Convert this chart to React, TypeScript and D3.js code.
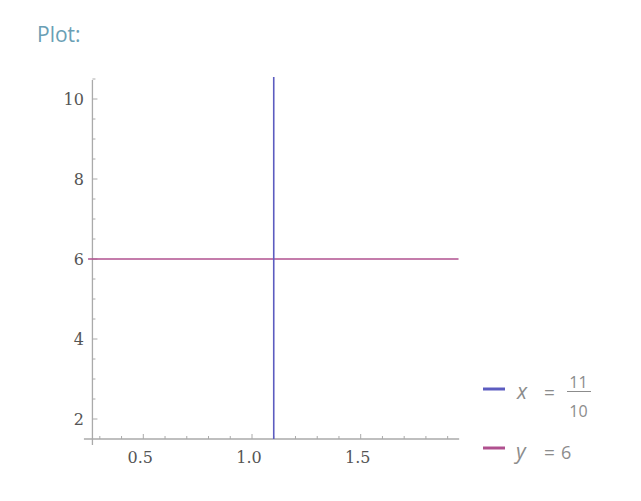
import React from "react";
import * as d3 from "d3";

const xMajorTicks = [0.5, 1.0, 1.5];
const xMinorTicks = [0.3, 0.4, 0.6, 0.7, 0.8, 0.9, 1.1, 1.2, 1.3, 1.4, 1.6, 1.7, 1.8, 1.9];
const yMajorTicks = [2, 4, 6, 8, 10];
const yMinorTicks = [2.5, 3, 3.5, 4.5, 5, 5.5, 6.5, 7, 7.5, 8.5, 9, 9.5, 10.5];
const xTickLabels = ["0.5", "1.0", "1.5"];
const yTickLabels = ["2", "4", "6", "8", "10"];
const verticalLineX = 1.1;
const horizontalLineY = 6;
const xDomainPlot = [0.266, 1.953];
const yDomainPlot = [1.5, 10.5];
const lineXRange = [0.246, 1.95];
const lineYRange = [1.5, 10.55];

export default function App() {
  const x = d3.scaleLinear().domain([0.5, 1.5]).range([143.3, 360.7]);
  const y = d3.scaleLinear().domain([2, 10]).range([419, 99]);
  const axisY = y(yDomainPlot[0]);
  const axisX = x(xDomainPlot[0]);
  const axisColor = "#aaaaaa";
  const labelColor = "#555555";
  const legendColor = "#8c8c8c";
  const line = d3.line<[number, number]>().x((d) => x(d[0])).y((d) => y(d[1]));

  return (
    <svg width={641} height={501} style={{ position: "absolute", left: 0, top: 0 }}>
      <text x={37} y={42} fontFamily="'Open Sans', sans-serif" fontWeight={400} fontSize={21} fill="#6a9fb5">
        Plot:
      </text>
      {/* x axis */}
      <line x1={axisX - 8.5} x2={x(xDomainPlot[1])} y1={axisY} y2={axisY} stroke={axisColor} strokeWidth={1.3} />
      {/* y axis */}
      <line x1={axisX} x2={axisX} y1={y(yDomainPlot[1]) + 1} y2={axisY + 6} stroke={axisColor} strokeWidth={1.3} />
      {xMajorTicks.map((t) => (
        <line key={"xM" + t} x1={x(t)} x2={x(t)} y1={axisY} y2={axisY - 5} stroke={axisColor} strokeWidth={1} />
      ))}
      {xMinorTicks.map((t) => (
        <line key={"xm" + t} x1={x(t)} x2={x(t)} y1={axisY} y2={axisY - 3} stroke={axisColor} strokeWidth={1} />
      ))}
      {yMajorTicks.map((t) => (
        <line key={"yM" + t} x1={axisX} x2={axisX + 5} y1={y(t)} y2={y(t)} stroke={axisColor} strokeWidth={1} />
      ))}
      {yMinorTicks.map((t) => (
        <line key={"ym" + t} x1={axisX} x2={axisX + 3} y1={y(t)} y2={y(t)} stroke={axisColor} strokeWidth={1} />
      ))}
      {xMajorTicks.map((t, i) => (
        <text key={"xl" + t} x={x(t) - 3} y={axisY + 24} textAnchor="middle" fontFamily="'DejaVu Serif', serif" fontSize={16} fill={labelColor}>
          {xTickLabels[i]}
        </text>
      ))}
      {yMajorTicks.map((t, i) => (
        <text key={"yl" + t} x={axisX - 8.5} y={y(t) + 6} textAnchor="end" fontFamily="'DejaVu Serif', serif" fontSize={16} fill={labelColor}>
          {yTickLabels[i]}
        </text>
      ))}
      <path
        d={line([[lineXRange[0], horizontalLineY], [lineXRange[1], horizontalLineY]]) || ""}
        stroke="#b0508f"
        strokeWidth={1.6}
        fill="none"
      />
      <path
        d={line([[verticalLineX, lineYRange[0]], [verticalLineX, lineYRange[1]]]) || ""}
        stroke="#5c5cc0"
        strokeWidth={1.6}
        fill="none"
      />
      {/* legend */}
      <line x1={483} x2={505} y1={389} y2={389} stroke="#5c5cc0" strokeWidth={3} />
      <text x={517} y={399} fontFamily="'Open Sans', sans-serif" fontStyle="italic" fontSize={21} fill={legendColor}>x</text>
      <text x={544} y={399} fontFamily="'Open Sans', sans-serif" fontSize={19} fill={legendColor}>=</text>
      <text x={578.5} y={388} textAnchor="middle" fontFamily="'Open Sans', sans-serif" fontSize={16} fill={legendColor}>11</text>
      <line x1={567} x2={591} y1={391.5} y2={391.5} stroke={legendColor} strokeWidth={1} />
      <text x={578.5} y={417} textAnchor="middle" fontFamily="'Open Sans', sans-serif" fontSize={16} fill={legendColor}>10</text>
      <line x1={483} x2={505} y1={448} y2={448} stroke="#b0508f" strokeWidth={3} />
      <text x={516} y={459} fontFamily="'Open Sans', sans-serif" fontStyle="italic" fontSize={21} fill={legendColor}>y</text>
      <text x={544} y={459} fontFamily="'Open Sans', sans-serif" fontSize={19} fill={legendColor}>=</text>
      <text x={561} y={459} fontFamily="'Open Sans', sans-serif" fontSize={18} fill={legendColor}>6</text>
    </svg>
  );
}
